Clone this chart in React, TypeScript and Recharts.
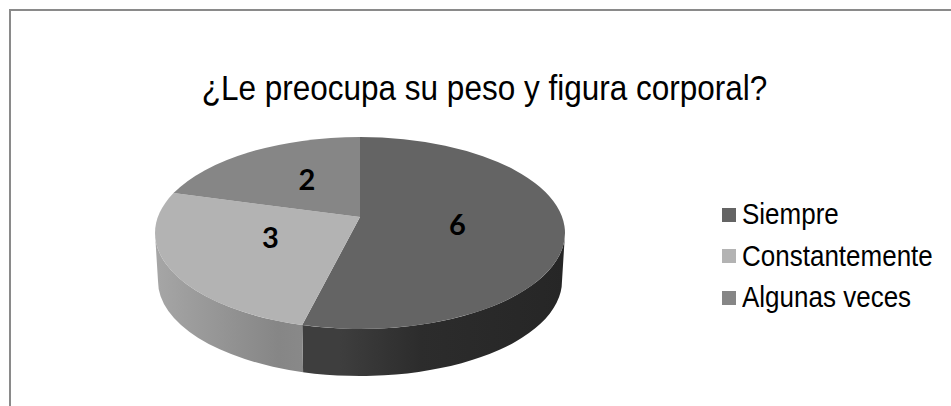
import { PieChart, Pie, Cell, Legend } from 'recharts'

// ─── Data ─────────────────────────────────────────────────────────────────────

const categories = ['Siempre', 'Constantemente', 'Algunas veces']
const counts = [6, 3, 2]

// top face colour, side wall gradient (left → right)
const topColors = ['#646464', '#b3b3b3', '#868686']
const sideStops = [
  ['#3e3e3e', '#2c2c2c', '#262626'],
  ['#a6a6a6', '#959595', '#868686'],
  ['#6e6e6e', '#666666', '#5e5e5e'],
]

const data = categories.map((name, i) => ({ name, value: counts[i] }))

// ─── Geometry (fake 3D) ──────────────────────────────────────────────────────

const CX = 360
const APEX_Y = 217 // where the slice edges meet (perspective centre)
const RX = 205
const RY = 96
const ELLIPSE_DY = 16 // ellipse centre sits a little below the apex
const DEPTH = 48
const RAD = Math.PI / 180

function pt(cx: number, cy: number, rx: number, ry: number, deg: number) {
  return [cx + rx * Math.cos(deg * RAD), cy - ry * Math.sin(deg * RAD)]
}

function SliceShape(props: any) {
  const { cx, cy, outerRadius, startAngle, endAngle, fill } = props
  const idx = props.index ?? categories.indexOf(props.name ?? props.payload?.name)
  const rx = outerRadius
  const ry = (outerRadius * RY) / RX
  const ey = cy + ELLIPSE_DY

  const [sx, sy] = pt(cx, ey, rx, ry, startAngle)
  const [ex, eyy] = pt(cx, ey, rx, ry, endAngle)
  const large = Math.abs(startAngle - endAngle) > 180 ? 1 : 0
  const top = `M${cx},${cy} L${sx},${sy} A${rx},${ry} 0 ${large} 1 ${ex},${eyy} Z`

  // front part of the outer wall: angles in [-180, 0]
  const b = Math.min(startAngle, 0)
  const a = Math.max(endAngle, -180)
  let side: string | null = null
  if (a < b) {
    const brx = rx - 3
    const bry = ry - 1
    const [t1x, t1y] = pt(cx, ey, rx, ry, b)
    const [t2x, t2y] = pt(cx, ey, rx, ry, a)
    const [b2x, b2y] = pt(cx, ey + DEPTH, brx, bry, a)
    const [b1x, b1y] = pt(cx, ey + DEPTH, brx, bry, b)
    const lg = b - a > 180 ? 1 : 0
    side =
      `M${t1x},${t1y} A${rx},${ry} 0 ${lg} 1 ${t2x},${t2y} ` +
      `L${b2x},${b2y} A${brx},${bry} 0 ${lg} 0 ${b1x},${b1y} Z`
  }
  const stops = sideStops[idx] ?? sideStops[0]
  const gid = `side-grad-${idx}`

  return (
    <g>
      <defs>
        <linearGradient id={gid} gradientUnits="userSpaceOnUse" x1={cx - rx} y1={0} x2={cx + rx} y2={0}>
          <stop offset="0%" stopColor={stops[0]} />
          <stop offset={idx === 1 ? '30%' : '45%'} stopColor={stops[idx === 1 ? 2 : 0]} />
          <stop offset="65%" stopColor={stops[1]} />
          <stop offset="100%" stopColor={stops[2]} />
        </linearGradient>
      </defs>
      {side && <path d={side} fill={`url(#${gid})`} stroke="none" />}
      <path d={top} fill={fill} stroke="none" />
    </g>
  )
}

function renderLabel(props: any) {
  const { cx, cy, midAngle, outerRadius, value } = props
  const f = 0.48
  const x = cx + outerRadius * f * Math.cos(midAngle * RAD)
  const y = cy - ((outerRadius * RY) / RX) * f * Math.sin(midAngle * RAD)
  return (
    <text
      x={x}
      y={y}
      textAnchor="middle"
      dominantBaseline="central"
      fill="#000"
      style={{ fontFamily: 'Lato, "Noto Sans", sans-serif', fontWeight: 700, fontSize: 29 }}
    >
      {value}
    </text>
  )
}

function LegendContent({ payload }: { payload?: any[] }) {
  if (!payload) return null
  const items = [...payload].sort(
    (p, q) => categories.indexOf(p.value) - categories.indexOf(q.value),
  )
  return (
    <div style={{ fontFamily: '"Liberation Sans", Arial, sans-serif', fontSize: 26, color: '#000' }}>
      {items.map((entry) => (
        <div key={entry.value} style={{ display: 'flex', alignItems: 'center', height: 41.5 }}>
          <span style={{ width: 14, height: 14, background: entry.color, marginRight: 6, flex: 'none' }} />
          <span style={{ whiteSpace: 'nowrap', display: 'inline-block', transform: 'scaleY(1.1)' }}>
            {entry.value}
          </span>
        </div>
      ))}
    </div>
  )
}

export default function App() {
  return (
    <div
      style={{
        position: 'absolute',
        left: 0,
        top: 0,
        width: 951,
        height: 406,
        overflow: 'hidden',
        background: '#fff',
        fontFamily: '"Liberation Sans", Arial, sans-serif',
      }}
    >
      <div
        style={{
          position: 'absolute',
          left: 9,
          top: 9,
          width: 1000,
          height: 500,
          borderTop: '2px solid #8a8a8a',
          borderLeft: '2px solid #8a8a8a',
        }}
      />
      <div
        style={{
          position: 'absolute',
          left: 0,
          top: 73,
          width: 969,
          textAlign: 'center',
          fontSize: 31.5,
          lineHeight: '32px',
          whiteSpace: 'nowrap',
          color: '#000',
          transform: 'scaleY(1.13)',
          transformOrigin: '50% 27px',
        }}
      >
        ¿Le preocupa su peso y figura corporal?
      </div>
      <div style={{ position: 'absolute', left: 0, top: 0 }}>
        <PieChart width={951} height={406} margin={{ top: 0, right: 0, bottom: 0, left: 0 }}>
          <Pie
            data={data}
            dataKey="value"
            nameKey="name"
            cx={CX}
            cy={APEX_Y}
            innerRadius={0}
            outerRadius={RX}
            startAngle={90}
            endAngle={-270}
            stroke="none"
            shape={SliceShape}
            label={renderLabel}
            labelLine={false}
            isAnimationActive={false}
          >
            {data.map((d, i) => (
              <Cell key={d.name} fill={topColors[i]} />
            ))}
          </Pie>
          <Legend
            layout="vertical"
            content={<LegendContent />}
            wrapperStyle={{ position: 'absolute', left: 722, top: 194, width: 229 }}
          />
        </PieChart>
      </div>
    </div>
  )
}
